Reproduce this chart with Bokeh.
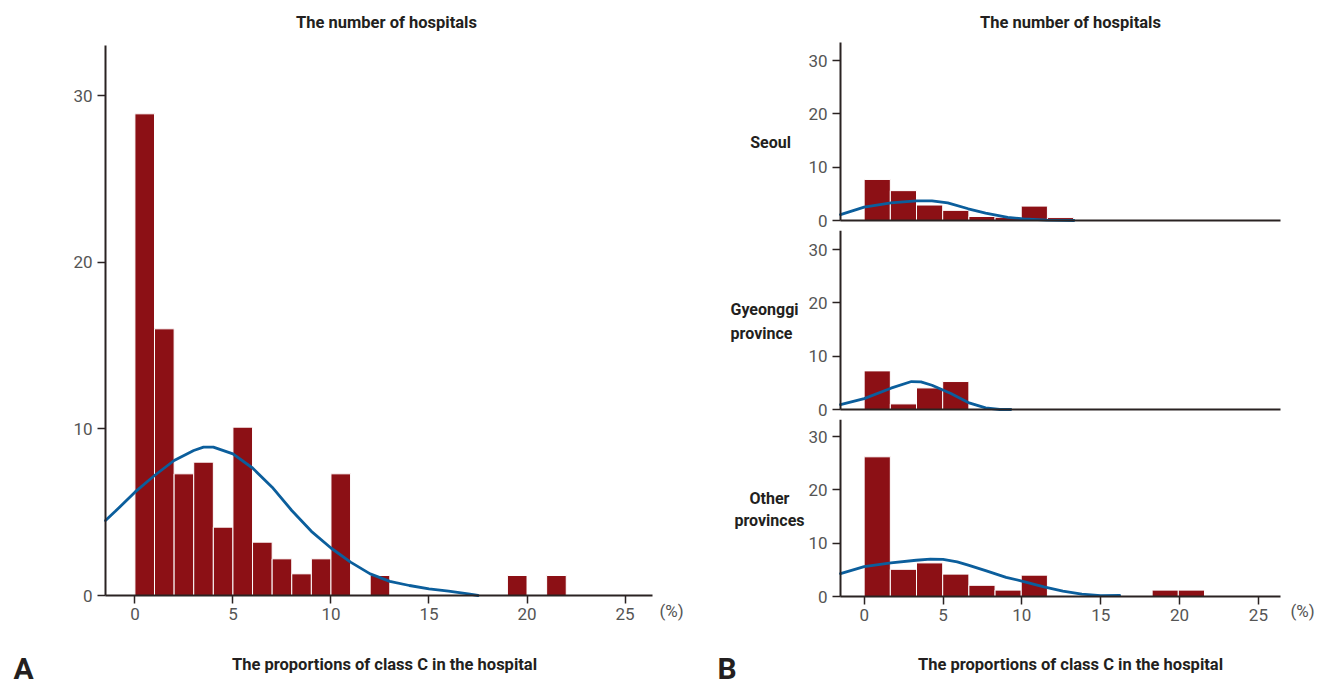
from bokeh.plotting import figure
from bokeh.models import Label, FixedTicker, Range1d
from bokeh.layouts import row, column
from bokeh.embed import file_html
from bokeh.resources import INLINE

# ---------------- data ----------------
x_ticks = [0, 5, 10, 15, 20, 25]
y_ticks = [0, 10, 20, 30]

# Panel A: all hospitals, bins of width 1 starting at 0
a_bin_width = 1.0
a_counts = [28.9, 16.0, 7.3, 8.0, 4.1, 10.1, 3.2, 2.2, 1.3, 2.2, 7.3, 0.0, 1.2,
            0.0, 0.0, 0.0, 0.0, 0.0, 0.0, 1.2, 0.0, 1.2]
a_kde_x = [-1.5, -1.0, 0, 1, 2, 3, 3.5, 4, 5, 6, 7, 8, 9, 10, 11, 12, 13, 14, 15, 16, 17, 17.5]
a_kde_y = [4.5, 5.05, 6.2, 7.2, 8.1, 8.7, 8.9, 8.9, 8.5, 7.65, 6.5, 5.1, 3.85, 2.85,
           2.0, 1.3, 0.85, 0.6, 0.4, 0.26, 0.1, 0.0]

# Panel B: by region, bins of width ~1.66 starting at 0
b_bin_width = 1.66
seoul_counts = [7.7, 5.6, 2.9, 1.9, 0.75, 0.6, 2.7, 0.55]
seoul_kde_x = [-1.5, 0.0, 1.7, 3.3, 4.3, 5.3, 6.6, 7.7, 9.1, 10.1, 11.6, 13.3]
seoul_kde_y = [1.1, 2.5, 3.3, 3.7, 3.7, 3.3, 2.2, 1.4, 0.6, 0.3, 0.06, 0.0]
gyeonggi_counts = [7.25, 1.05, 4.05, 5.25]
gyeonggi_kde_x = [-1.5, 0.0, 1.7, 3.0, 3.6, 4.3, 5.5, 6.6, 7.7, 8.6, 9.3]
gyeonggi_kde_y = [0.9, 2.05, 4.0, 5.25, 5.2, 4.55, 3.0, 1.3, 0.3, 0.0, 0.0]
other_counts = [26.2, 5.1, 6.3, 4.2, 2.1, 1.2, 4.0, 0.0, 0.0, 0.0, 0.0, 1.2, 1.2]
other_kde_x = [-1.5, 0.0, 1.7, 3.3, 4.2, 5.0, 5.9, 6.6, 7.8, 9.0, 10.0, 11.4, 12.6,
               13.8, 15.0, 16.2]
other_kde_y = [4.3, 5.6, 6.3, 6.8, 7.0, 6.95, 6.5, 5.9, 4.75, 3.6, 2.9, 1.8, 1.0,
               0.44, 0.17, 0.22]

# ---------------- style ----------------
BAR = "#8c1015"
KDE = "#0b5e9c"
AXIS = "#2a2322"
TICK_TXT = "#555555"
TXT = "#231f20"
FONT = "Roboto"
X_RANGE = (-1.5, 26.4)


class Panel:
    """A figure whose frame fills its canvas; axes are pinned with fixed_location."""

    def __init__(self, cx0, cx1, cy0, cy1, fl, fr, ft, fb, yr, xticks):
        self.ppx = (fr - fl) / (X_RANGE[1] - X_RANGE[0])
        self.ppy = (fb - ft) / (yr[1] - yr[0])
        self.fl, self.fb, self.yr = fl, fb, yr
        xs = X_RANGE[0] - (fl - cx0) / self.ppx
        xe = X_RANGE[1] + (cx1 - fr) / self.ppx
        ys = yr[0] - (cy1 - fb) / self.ppy
        ye = yr[1] + (ft - cy0) / self.ppy
        p = figure(width=cx1 - cx0, height=cy1 - cy0, x_range=Range1d(xs, xe),
                   y_range=Range1d(ys, ye), output_backend="svg", toolbar_location=None,
                   min_border=0, min_border_left=0, min_border_right=0,
                   min_border_top=0, min_border_bottom=0)
        p.outline_line_color = None
        p.grid.visible = False
        p.background_fill_color = "white"
        p.border_fill_color = "white"
        for ax in (p.xaxis[0], p.yaxis[0]):
            ax.axis_line_color = AXIS
            ax.axis_line_width = 2
            ax.major_tick_line_color = AXIS
            ax.major_tick_line_width = 1.5
            ax.major_tick_out = 8
            ax.major_tick_in = 0
            ax.minor_tick_line_color = None
            ax.major_label_text_font = FONT
            ax.major_label_text_font_size = "17px"
            ax.major_label_text_color = TICK_TXT
        xa, ya = p.xaxis[0], p.yaxis[0]
        xa.fixed_location = yr[0]
        xa.bounds = X_RANGE
        xa.ticker = FixedTicker(ticks=xticks)
        xa.major_label_standoff = 4
        if not xticks:
            xa.major_tick_out = 0
        ya.fixed_location = X_RANGE[0]
        ya.bounds = yr
        ya.ticker = FixedTicker(ticks=y_ticks)
        ya.major_label_standoff = 5
        self.p = p

    def hist(self, counts, width, kx, ky):
        lefts = [i * width for i, c in enumerate(counts) if c > 0]
        rights = [(i + 1) * width for i, c in enumerate(counts) if c > 0]
        tops = [c for c in counts if c > 0]
        self.p.quad(left=lefts, right=rights, bottom=0, top=tops, fill_color=BAR,
                    line_color="white", line_width=1)
        self.p.line(kx, ky, line_color=KDE, line_width=2.8, line_cap="round",
                    line_join="round")

    def label(self, px, py, text, size="16.5px", bold=True, align="center",
              baseline="alphabetic"):
        x = X_RANGE[0] + (px - self.fl) / self.ppx
        y = self.yr[0] + (self.fb - py) / self.ppy
        self.p.add_layout(Label(x=x, y=y, text=text, text_align=align,
                                text_baseline=baseline, text_font=FONT,
                                text_font_size=size,
                                text_font_style="bold" if bold else "normal",
                                text_color=TXT if bold else TICK_TXT))


# ---------------- panel A ----------------
A = Panel(0, 698, 0, 685, 105, 652, 45, 595, (0, 33), x_ticks)
A.hist(a_counts, a_bin_width, a_kde_x, a_kde_y)
A.label(386, 22, "The number of hospitals")
A.label(384, 664, "The proportions of class C in the hospital")
A.label(659, 610, "(%)", size="17px", bold=False, align="left")
A.label(13, 685, "A", size="30px", align="left", baseline="bottom")

# ---------------- panel B ----------------
BX0, BX1, BL, BR = 698, 1318, 840, 1280
S = Panel(BX0, BX1, 0, 230, BL, BR, 42, 220, (0, 33.4), [])
S.hist(seoul_counts, b_bin_width, seoul_kde_x, seoul_kde_y)
G = Panel(BX0, BX1, 230, 419, BL, BR, 230, 409, (0, 33.6), [])
G.hist(gyeonggi_counts, b_bin_width, gyeonggi_kde_x, gyeonggi_kde_y)
O = Panel(BX0, BX1, 419, 685, BL, BR, 419, 596, (0, 33.2), x_ticks)
O.hist(other_counts, b_bin_width, other_kde_x, other_kde_y)

S.label(1070, 22, "The number of hospitals")
S.label(770, 142, "Seoul", size="16px")
G.label(764, 309, "Gyeonggi", size="16px")
G.label(761, 333, "province", size="16px")
O.label(769, 498, "Other", size="16px")
O.label(769, 520, "provinces", size="16px")
O.label(1070, 664, "The proportions of class C in the hospital")
O.label(1290, 610, "(%)", size="17px", bold=False, align="left")
O.label(717, 685, "B", size="30px", align="left", baseline="bottom")

layout = row(A.p, column(S.p, G.p, O.p, spacing=0), spacing=0)
open("out.html", "w").write(file_html(layout, INLINE))
